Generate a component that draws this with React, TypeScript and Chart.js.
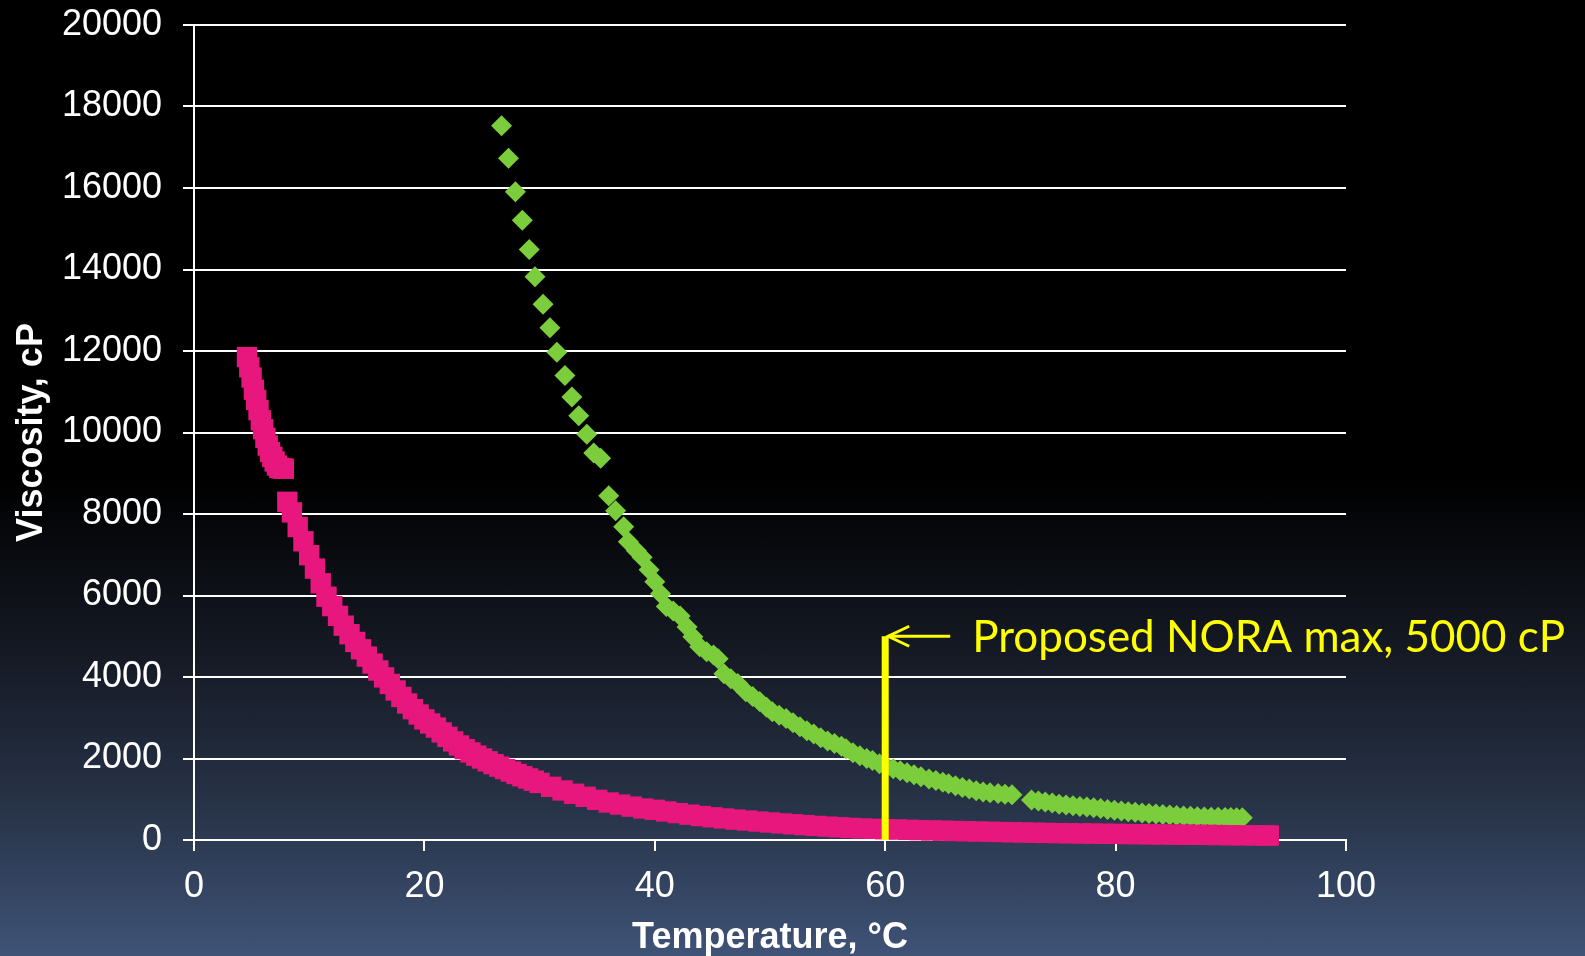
import { useEffect, useRef } from "react";
import { Chart, registerables } from "chart.js";

Chart.register(...registerables);

// ---- data ----
const X_TICKS = [0, 20, 40, 60, 80, 100];
const Y_TICKS = [0, 2000, 4000, 6000, 8000, 10000, 12000, 14000, 16000, 18000, 20000];

const X_TITLE = "Temperature, °C";
const Y_TITLE = "Viscosity, cP";

// pink series (dense square markers)
const PINK_T = [
  4.6, 4.8, 5.0, 5.2, 5.4, 5.6, 5.8, 6.0, 6.2, 6.4, 6.6, 6.8, 7.0, 7.2, 7.4, 7.6, 7.8,
  8.1, 8.5, 9.0, 9.5, 10.0, 10.5, 11.0, 11.5, 12.0, 12.5, 13.0, 13.5, 14.0, 14.5, 15.0,
  15.5, 16.0, 16.5, 17.0, 17.5, 18.0, 18.5, 19.0, 19.5, 20.0, 20.5, 21.0, 21.5, 22.0,
  22.5, 23.0, 23.5, 24.0, 24.5, 25.0, 25.5, 26.0, 26.5, 27.0, 27.5, 28.0, 28.5, 29.0,
  29.5, 30.0,
  31, 32, 33, 34, 35, 36, 37, 38, 39, 40, 41, 42, 43, 44, 45, 46, 47, 48, 49, 50,
  51, 52, 53, 54, 55, 56, 57, 58, 59, 60, 61, 62, 63, 64, 65, 66, 67, 68, 69, 70,
  71, 72, 73, 74, 75, 76, 77, 78, 79, 80, 81, 82, 83, 84, 85, 86, 87, 88, 89, 90,
  91, 92, 93, 93.3,
];
const PINK_V = [
  11850, 11600, 11350, 11050, 10800, 10550, 10300, 10080, 9870, 9680, 9520, 9400, 9290, 9190, 9130, 9120, 9110,
  8300, 8040, 7680, 7330, 6990, 6660, 6300, 5970, 5740, 5500, 5260, 5050, 4860, 4680, 4500,
  4330, 4160, 3990, 3830, 3670, 3510, 3350, 3210, 3080, 2960, 2860, 2760, 2640, 2530,
  2420, 2320, 2230, 2150, 2070, 2000, 1930, 1860, 1800, 1740, 1680, 1620, 1565, 1510,
  1455, 1400,
  1305, 1215, 1135, 1060, 985, 920, 869, 819, 773, 740, 700, 660, 622, 588, 557, 528, 501, 477, 453, 430,
  407, 386, 365, 346, 328, 312, 296, 282, 274, 265, 257, 250, 242, 235, 228, 221, 215, 208, 202, 196,
  190, 184, 178, 173, 169, 165, 161, 157, 153, 150, 146, 143, 139, 136, 133, 130, 127, 124, 121, 118,
  115, 113, 111, 110,
];

// green series (diamond markers)
const GREEN_T = [
  26.7, 27.3, 27.9, 28.5, 29.1, 29.6, 30.3, 30.9, 31.5, 32.2, 32.8, 33.4, 34.1, 34.7, 35.3,
  36.0, 36.6, 37.3, 37.7, 38.4, 38.9, 39.5, 40.0, 40.5, 41.0,
  41.6, 42.2, 42.8, 43.3, 43.9, 44.5, 45.1, 45.5, 46.0, 46.6,
  47.2, 47.9, 48.5, 49.1, 49.7, 50.2, 50.8, 51.4, 52.0, 52.6,
  53.2, 53.8, 54.4, 55.0, 55.6, 56.2, 56.6, 57.2, 57.8, 58.4,
  58.9, 59.5, 60.1, 60.7, 61.3, 61.9, 62.5, 63.1, 63.8, 64.4,
  65.0, 65.5, 66.1, 66.7, 67.3, 67.9, 68.5, 69.1, 69.8, 70.4, 71.0,
  72.7, 73.3, 73.9, 74.5, 75.1, 75.7, 76.3, 76.9, 77.5, 78.1,
  78.7, 79.3, 79.9, 80.5, 81.1, 81.7, 82.3, 82.9, 83.5, 84.1,
  84.7, 85.3, 85.9, 86.5, 87.1, 87.7, 88.3, 88.9, 89.5, 90.0, 90.5, 91.0,
];
const GREEN_V = [
  17530, 16730, 15910, 15210, 14490, 13820, 13150, 12570, 11970, 11400, 10870, 10410, 9960, 9500, 9370,
  8450, 8080, 7690, 7320, 7100, 6940, 6630, 6340, 6040, 5730,
  5620, 5500, 5230, 4990, 4740, 4620, 4540, 4450, 4080, 3960,
  3840, 3640, 3520, 3400, 3260, 3150, 3060, 2980, 2880, 2780,
  2680, 2600, 2510, 2430, 2370, 2300, 2240, 2140, 2070, 2000,
  1950, 1870, 1800, 1750, 1700, 1650, 1600, 1550, 1500, 1460,
  1420, 1380, 1330, 1290, 1250, 1210, 1180, 1160, 1140, 1120, 1110,
  980, 960, 930, 905, 880, 860, 840, 825, 810, 790,
  770, 750, 730, 710, 695, 680, 665, 650, 637, 625,
  612, 600, 592, 582, 572, 565, 560, 556, 552, 550, 548, 545,
];

// proposed limit marker
const LIMIT_T = [60, 60];
const LIMIT_V = [0, 5000];
const ANNOTATION_TEXT = "Proposed NORA max, 5000 cP";

// ---- styles ----
const PINK = "#e8177d";
const GREEN = "#7bcd3c";
const YELLOW = "#ffff00";
const WHITE = "#ffffff";
const AXIS_FONT = "'Liberation Sans', Arial, sans-serif";

const W = 1585;
const H = 956;

const annotationPlugin = {
  id: "noraAnnotation",
  afterDatasetsDraw(chart: any) {
    const { ctx, scales } = chart;
    const x = scales.x.getPixelForValue(LIMIT_T[1]);
    const y = scales.y.getPixelForValue(LIMIT_V[1]);
    const tipX = x + 3;
    ctx.save();
    ctx.strokeStyle = YELLOW;
    ctx.lineWidth = 3;
    ctx.lineCap = "butt";
    ctx.beginPath();
    ctx.moveTo(tipX, y);
    ctx.lineTo(tipX + 62, y);
    ctx.stroke();
    ctx.beginPath();
    ctx.moveTo(tipX + 21, y - 10);
    ctx.lineTo(tipX, y);
    ctx.lineTo(tipX + 21, y + 10);
    ctx.stroke();
    const target = 593;
    let size = 42;
    ctx.font = `${size}px Lato, 'Open Sans', sans-serif`;
    const w = ctx.measureText(ANNOTATION_TEXT).width;
    if (w > 0) size = Math.max(36, Math.min(48, (size * target) / w));
    ctx.font = `${size}px Lato, 'Open Sans', sans-serif`;
    ctx.fillStyle = YELLOW;
    ctx.textAlign = "left";
    ctx.textBaseline = "alphabetic";
    ctx.fillText(ANNOTATION_TEXT, x + 87, y + 16);
    ctx.restore();
  },
};

export default function App() {
  const canvasRef = useRef<HTMLCanvasElement | null>(null);

  useEffect(() => {
    document.body.style.margin = "0";
    const canvas = canvasRef.current;
    if (!canvas) return;

    const pink = PINK_T.map((t, i) => ({ x: t, y: PINK_V[i] }));
    const green = GREEN_T.map((t, i) => ({ x: t, y: GREEN_V[i] }));
    const limit = LIMIT_T.map((t, i) => ({ x: t, y: LIMIT_V[i] }));

    const chart = new Chart(canvas, {
      type: "scatter",
      data: {
        datasets: [
          {
            label: "limit",
            data: limit,
            showLine: true,
            borderColor: YELLOW,
            borderWidth: 7,
            pointRadius: 0,
            order: 0,
            clip: false,
          } as any,
          {
            label: "pink",
            data: pink,
            pointStyle: "rect",
            pointRadius: 14.4,
            backgroundColor: PINK,
            borderWidth: 0,
            order: 1,
            clip: false,
          } as any,
          {
            label: "green",
            data: green,
            pointStyle: "rectRot",
            pointRadius: 10.5,
            backgroundColor: GREEN,
            borderWidth: 0,
            order: 2,
            clip: false,
          } as any,
        ],
      },
      options: {
        responsive: false,
        devicePixelRatio: 1,
        animation: false,
        events: [],
        layout: { padding: { left: 0, top: 25, right: 239, bottom: 0 } },
        plugins: {
          legend: { display: false },
          tooltip: { enabled: false },
        },
        scales: {
          x: {
            type: "linear",
            min: 0,
            max: 100,
            afterBuildTicks: (scale: any) => {
              scale.ticks = X_TICKS.map((v) => ({ value: v }));
            },
            afterFit: (scale: any) => {
              scale.height = 116;
              scale.paddingLeft = 0;
              scale.paddingRight = 0;
              scale.paddingTop = 0;
              scale.paddingBottom = 0;
            },
            ticks: {
              color: WHITE,
              font: { family: AXIS_FONT, size: 36 },
              padding: 14,
              maxRotation: 0,
              callback: (v: any) => String(v),
            },
            grid: {
              drawOnChartArea: false,
              drawTicks: true,
              tickLength: 11,
              color: WHITE,
              lineWidth: 2,
            },
            border: { display: true, color: WHITE, width: 2 },
            title: {
              display: true,
              text: X_TITLE,
              color: WHITE,
              font: { family: AXIS_FONT, size: 36, weight: "bold", lineHeight: 1.0 },
              padding: { top: 0, bottom: 0 },
            },
          },
          y: {
            type: "linear",
            min: 0,
            max: 20000,
            afterBuildTicks: (scale: any) => {
              scale.ticks = Y_TICKS.map((v) => ({ value: v }));
            },
            afterFit: (scale: any) => {
              scale.width = 194;
              scale.paddingLeft = 0;
              scale.paddingRight = 0;
              scale.paddingTop = 0;
              scale.paddingBottom = 0;
            },
            ticks: {
              color: WHITE,
              font: { family: AXIS_FONT, size: 36 },
              padding: 21,
              callback: (v: any) => String(v),
            },
            grid: {
              drawOnChartArea: true,
              drawTicks: true,
              tickLength: 11,
              color: WHITE,
              lineWidth: 2,
            },
            border: { display: true, color: WHITE, width: 2 },
            title: {
              display: true,
              text: Y_TITLE,
              color: WHITE,
              font: { family: AXIS_FONT, size: 36, weight: "bold" },
              padding: { top: 10, bottom: 0 },
            },
          },
        },
      },
      plugins: [annotationPlugin],
    } as any);

    return () => chart.destroy();
  }, []);

  return (
    <div
      style={{
        width: W,
        height: H,
        background:
          "linear-gradient(to bottom, #000000 0%, #000000 50%, #171c28 70%, #283449 85%, #3f5377 100%)",
      }}
    >
      <canvas ref={canvasRef} width={W} height={H} style={{ display: "block" }} />
    </div>
  );
}
